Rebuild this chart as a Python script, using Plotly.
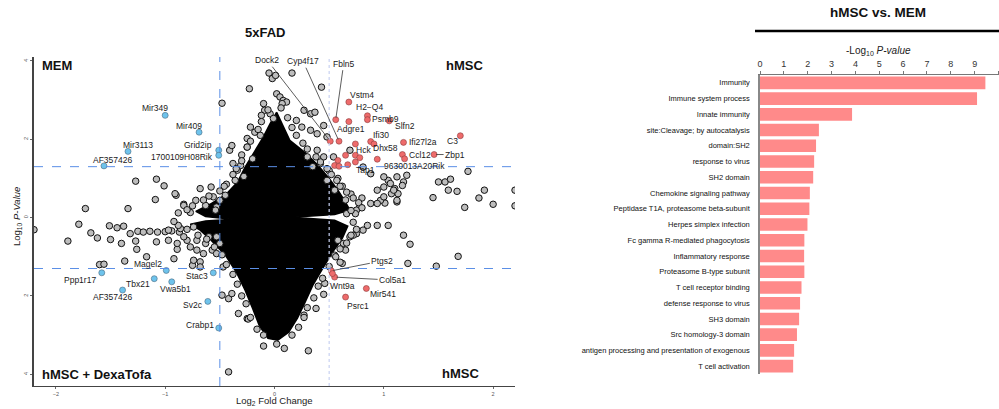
import plotly.graph_objects as go

# ---------------- DATA ----------------
# Volcano plot: grey (non-significant) genes
grey_x = [-0.48,-0.23,-1.27,-1.08,-1.01,-0.90,-1.09,-0.68,-0.58,-0.83,-1.73,-1.34,-0.38,-0.25,-0.56,-0.50,-0.53,-0.91,-0.83,
          -0.41,-0.39,-0.31,-0.34,-0.72,-0.63,-0.54,-0.45,-0.77,
          -2.20,-1.79,-1.89,-1.68,-1.62,-1.50,-1.51,-1.44,-1.32,-1.40,-1.27,-1.25,-1.20,-1.14,-1.07,-1.26,-1.17,-1.37,-1.60,-1.56,
          -1.00,-0.94,-0.87,-0.97,-0.89,-0.80,-0.92,-0.75,-1.08,-0.89,-0.83,-0.68,-0.42,-0.48,-0.42,-0.33,-0.25,-1.38,
          -0.97,-0.86,-0.74,-0.71,-0.63,-0.60,-0.53,-0.50,-0.57,-0.65,-0.71,-0.77,-0.74,-0.68,-0.53,-0.47,-0.39,
          -0.10,0.02,0.09,-0.24,0.27,0.38,0.45,0.46,0.62,0.31,
          0.78,0.88,1.01,0.75,0.81,0.94,1.04,0.63,0.69,0.75,1.18,1.24,1.68,1.22,1.48,1.74,2.00,2.20,1.77,1.50,1.56,1.61,1.59,1.67,
          1.45,1.87,1.92,2.20,1.18,1.17,1.21,1.12,1.04,1.00,1.10,1.07,1.13,1.12,0.97,0.94,0.74,0.66,0.85,0.72,0.58,0.65,0.55,0.60,
          0.16,-0.05,-0.02,0.01,-0.10,-0.09,-0.12,-0.04,-0.01,0.02,0.05,0.08,0.11,0.07,0.27,0.33,0.37,0.43,0.20,0.25,0.33,0.39,
          0.45,0.48,-0.22,-0.18,-0.13,-0.25,0.54,0.69,0.81,0.88,1.00,1.06,1.09,1.12,1.00,0.94,0.39,0.45,0.42,
          -0.30,-0.20,-0.28,-0.36,-0.44,0.30,0.35,0.50,0.58,0.62,0.70,0.55,0.48,0.65,0.80,
          0.06,0.12,0.16,0.20,0.26,0.30,0.38,0.42,0.48,0.52,0.57,0.60,0.66,0.72,0.77,0.80,0.70,
          -0.06,-0.12,-0.15,-0.22,-0.25,-0.30,-0.35,-0.38,-0.46,-0.50,-0.60,-0.65,-0.75,-0.80,-0.88,
          0.72,0.75,0.70,0.66,0.60,0.56,0.50,0.44,0.40,0.36,0.30,0.27,0.22,0.16,
          -0.10,-0.16,-0.22,-0.26,-0.30,-0.34,-0.38,-0.44,-0.48,-0.55,-0.62,-0.70,-0.80,-0.88,-0.92]
grey_y = [2.92,3.29,0.93,0.98,0.81,0.57,0.46,0.74,0.78,0.34,0.23,0.23,1.38,1.80,0.53,0.44,0.27,0.61,0.31,
          1.72,1.84,1.33,1.21,0.44,0.31,0.19,0.57,0.13,
          -0.31,-0.17,-0.60,-0.39,-0.52,-0.56,-0.21,-0.26,-0.41,-0.66,-0.60,-0.35,-0.37,-0.35,-0.37,-0.81,-1.00,-1.11,-1.20,-1.19,
          -0.36,-0.34,-0.37,-0.58,-0.81,-0.58,-1.05,-1.22,-0.62,-0.66,-0.49,-1.13,-3.94,-1.98,-2.07,-2.45,-2.58,-0.22,
          -0.32,-0.28,-0.24,-0.58,-0.66,-0.49,-0.49,-0.66,-0.83,-0.92,-0.83,-0.75,-1.09,-1.26,-0.92,-1.26,-1.94,
          -3.28,-3.23,-3.34,-2.59,-2.49,-2.32,-1.96,-1.68,-1.17,-3.40,
          0.27,0.36,0.37,-0.41,-0.32,-0.20,-0.20,-0.66,-0.49,0.19,-0.45,-0.68,-0.99,-1.17,-1.24,0.26,0.34,0.30,1.18,0.91,0.91,0.98,0.70,0.67,
          0.51,0.50,0.70,0.70,0.91,0.82,1.08,1.04,0.95,0.78,0.74,0.61,0.61,0.40,0.44,0.70,0.10,0.10,-0.20,-0.45,-0.58,-0.83,-0.96,-1.14,
          3.69,3.69,3.55,3.63,2.91,2.74,2.61,2.65,2.53,3.16,3.08,2.99,2.95,2.91,2.74,2.65,2.69,3.33,2.48,2.31,2.23,2.14,
          2.35,2.06,2.31,2.18,2.10,2.02,1.55,1.72,1.29,1.12,1.04,0.87,0.70,0.44,0.53,0.36,1.72,1.55,1.38,
          1.60,1.50,1.05,0.95,0.85,1.55,1.30,1.20,1.00,0.80,0.60,0.70,0.95,0.45,0.50,
          2.80,2.55,2.30,2.10,1.90,1.75,1.55,1.42,1.25,1.10,0.95,0.80,0.65,0.50,0.38,0.25,0.18,
          2.75,2.45,2.25,1.95,1.80,1.45,1.25,1.10,0.80,0.68,0.55,0.45,0.30,0.20,0.12,
          -0.12,-0.30,-0.45,-0.65,-0.80,-1.00,-1.25,-1.55,-1.75,-2.05,-2.30,-2.55,-2.80,-3.00,
          -3.00,-2.85,-2.55,-2.20,-2.00,-1.70,-1.45,-1.20,-0.95,-0.75,-0.55,-0.45,-0.30,-0.20,-0.10]

# Outline of the saturated (fully black) cloud of thousands of overlapping genes
dense_region_x = [0.02,0.08,0.14,0.28,0.40,0.50,0.58,0.64,0.69,0.55,0.16,0.55,0.67,0.62,0.53,0.44,0.35,0.28,0.21,0.13,
                  0.03,-0.06,-0.14,-0.20,-0.27,-0.35,-0.45,-0.58,-0.68,-0.77,-0.63,-0.39,-0.63,-0.72,-0.59,-0.44,
                  -0.34,-0.27,-0.19,-0.11,-0.04,0.02]
dense_region_y = [2.69,2.35,1.97,1.66,1.33,1.00,0.70,0.44,0.19,0.08,0.01,-0.07,-0.22,-0.53,-0.89,-1.30,-1.73,-2.16,-2.57,-2.93,
                  -3.13,-3.08,-2.75,-2.32,-1.85,-1.39,-0.96,-0.58,-0.32,-0.17,-0.09,-0.04,0.03,0.16,0.34,0.60,
                  0.90,1.28,1.66,2.02,2.40,2.69]

# Significant genes (down = blue, up = red)
blue_genes = ["Mir349","Mir409","Mir3113","AF357426","Grid2ip","1700109H08Rik",
              "Magel2","Ppp1r17","Tbx21","Vwa5b1","AF357426 ","Stac3","Sv2c","Crabp1"]
blue_x = [-1.00,-0.69,-1.34,-1.56,-0.51,-0.51,-0.99,-1.58,-1.10,-0.94,-1.39,-0.56,-0.61,-0.51]
blue_y = [2.61,2.18,1.69,1.32,1.72,1.59,-1.35,-1.41,-1.56,-1.64,-1.85,-1.41,-2.14,-2.82]

red_genes = ["Fbln5","Vstm4","H2\u2212Q4","Psmb9","Adgre1","Slfn2","Dock2","Cyp4f17","Ifi30","Dhx58","Ifi27l2a","C3",
             "Hck","Ccl12","Zbp1","9630013A20Rik","Tap1","Ptgs2","Col5a1","Wnt9a","Mir541","Psrc1",
             "","","","","","","",""]
red_x = [0.56,0.68,0.85,0.85,0.68,1.05,0.51,0.59,0.88,0.91,1.18,1.70,0.74,1.17,1.46,0.94,0.74,0.52,0.55,0.53,0.84,0.65,
         1.19,0.78,0.65,0.58,0.55,0.59,0.67,0.74]
red_y = [2.50,2.95,2.60,2.50,2.45,2.47,1.95,1.95,1.94,1.88,1.92,2.09,1.59,1.61,1.61,1.49,1.42,-1.36,-1.52,-1.43,-1.81,-2.03,
         1.50,1.53,1.59,1.46,1.33,1.31,1.35,1.88]

x_ticks = [-2, -1, 0, 1, 2]
y_tickvals = [-4, -2, 0, 2, 4]
y_ticktext = ["4", "2", "0", "2", "4"]
p_cut = 1.3
fc_cut = 0.5

# Enrichment bar chart
terms = ["Immunity","Immune system process","Innate immunity","site:Cleavage; by autocatalysis","domain:SH2",
         "response to virus","SH2 domain","Chemokine signaling pathway","Peptidase T1A, proteasome beta-subunit",
         "Herpes simplex infection","Fc gamma R-mediated phagocytosis","Inflammatory response",
         "Proteasome B-type subunit","T cell receptor binding","defense response to virus","SH3 domain",
         "Src homology-3 domain","antigen processing and presentation of exogenous","T cell activation"]
neglog_p = [9.45,9.1,3.86,2.47,2.35,2.27,2.23,2.09,2.07,1.99,1.86,1.85,1.86,1.74,1.68,1.64,1.55,1.43,1.39]
bar_ticks = list(range(0, 11))

# ---------------- STYLE ----------------
FONT = "Liberation Sans, Arial, Helvetica, sans-serif"
W, H = 999, 409

# label offsets in pixels (text centre relative to the point)
label_shift = {
    "Mir349": (-10, 7), "Mir409": (-10, 6), "Mir3113": (10, 6), "AF357426": (9, 6),
    "Magel2": (-18, 6), "Ppp1r17": (-22, -7), "Tbx21": (-16, -5), "Vwa5b1": (4, -7),
    "AF357426 ": (-10, -7), "Stac3": (-16, -3), "Sv2c": (-15, -4), "Crabp1": (-19, 3),
    "Vstm4": (13, 7), "H2\u2212Q4": (2, 9), "Psmb9": (18, 1), "Adgre1": (2, -7), "Slfn2": (16, -5),
    "Ifi30": (10, 7), "Dhx58": (12, -4), "Ifi27l2a": (19, 0), "C3": (-8, -5), "Hck": (8, 5),
    "Ccl12": (18, 0), "9630013A20Rik": (37, -7), "Tap1": (10, -8),
    "Wnt9a": (10, -12), "Mir541": (17, -6), "Psrc1": (12, -9),
}
right_anchor = {"Grid2ip": (-5, 5), "1700109H08Rik": (-4, -2)}
arrow_labels = {"Dock2": (-63, -81), "Cyp4f17": (-36, -80), "Fbln5": (8, -56), "Zbp1": (21, 0),
                "Ptgs2": (51, -10), "Col5a1": (58, 3)}

fig = go.Figure()

# dense cloud
fig.add_trace(go.Scatter(x=dense_region_x, y=dense_region_y, mode="lines", fill="toself",
                         fillcolor="black", line=dict(color="black", width=1.5),
                         hoverinfo="skip", showlegend=False, xaxis="x", yaxis="y"))
fig.add_trace(go.Scatter(x=grey_x, y=grey_y, mode="markers",
                         marker=dict(size=6.5, color="#BDBDBD", line=dict(color="#111111", width=1)),
                         showlegend=False, xaxis="x", yaxis="y"))
fig.add_trace(go.Scatter(x=blue_x, y=blue_y, mode="markers",
                         marker=dict(size=6, color="#6EC3EC", line=dict(color="#4a6a80", width=0.6)),
                         showlegend=False, xaxis="x", yaxis="y"))
fig.add_trace(go.Scatter(x=red_x, y=red_y, mode="markers",
                         marker=dict(size=6, color="#EE6B6B", line=dict(color="#8a3a3a", width=0.6)),
                         showlegend=False, xaxis="x", yaxis="y"))

# bars
fig.add_trace(go.Bar(x=neglog_p, y=terms, orientation="h", marker=dict(color="#FF8A8A", line=dict(width=0)),
                     width=0.8, showlegend=False, xaxis="x2", yaxis="y2"))

ann = []
lab_font = dict(family=FONT, size=8.5, color="#1a1a1a")
for names, xs, ys in ((blue_genes, blue_x, blue_y), (red_genes, red_x, red_y)):
    for n, x, y in zip(names, xs, ys):
        if not n:
            continue
        if n in arrow_labels:
            ax, ay = arrow_labels[n]
            ann.append(dict(x=x, y=y, xref="x", yref="y", text=n, showarrow=True, ax=ax, ay=ay,
                            arrowhead=0, arrowwidth=0.8, arrowcolor="#333", standoff=2, font=lab_font))
        elif n in right_anchor:
            dx, dy = right_anchor[n]
            ann.append(dict(x=x, y=y, xref="x", yref="y", text=n, showarrow=False, xanchor="right",
                            xshift=dx, yshift=dy, font=lab_font))
        else:
            dx, dy = label_shift[n]
            ann.append(dict(x=x, y=y, xref="x", yref="y", text=n.strip(), showarrow=False, xanchor="center",
                            xshift=dx, yshift=dy, font=lab_font))

def px(xp):
    return xp / W
def py(yp):
    return 1 - yp / H

bold = dict(family=FONT, size=13, color="#111")
ann += [
    dict(x=px(265), y=py(33), xref="paper", yref="paper", text="<b>5xFAD</b>", showarrow=False,
         xanchor="center", yanchor="middle", font=bold),
    dict(x=px(40), y=py(66), xref="paper", yref="paper", text="<b>MEM</b>", showarrow=False,
         xanchor="left", yanchor="middle", font=bold),
    dict(x=px(464), y=py(66), xref="paper", yref="paper", text="<b>hMSC</b>", showarrow=False,
         xanchor="center", yanchor="middle", font=bold),
    dict(x=px(40), y=py(374), xref="paper", yref="paper", text="<b>hMSC + DexaTofa</b>", showarrow=False,
         xanchor="left", yanchor="middle", font=bold),
    dict(x=px(460), y=py(373), xref="paper", yref="paper", text="<b>hMSC</b>", showarrow=False,
         xanchor="center", yanchor="middle", font=bold),
    dict(x=px(274.5), y=py(401), xref="paper", yref="paper", text="Log<sub>2</sub> Fold Change",
         showarrow=False, xanchor="center", yanchor="middle", font=dict(family=FONT, size=9.5, color="#222")),
    dict(x=px(17), y=py(217), xref="paper", yref="paper", text="Log<sub>10</sub> <i>P-Value</i>",
         showarrow=False, textangle=-90, xanchor="center", yanchor="middle",
         font=dict(family=FONT, size=9.5, color="#222")),
    dict(x=px(878), y=py(13), xref="paper", yref="paper", text="<b>hMSC vs. MEM</b>", showarrow=False,
         xanchor="center", yanchor="middle", font=dict(family=FONT, size=13.5, color="#111")),
    dict(x=px(878), y=py(51), xref="paper", yref="paper", text="-Log<sub>10</sub> <i>P-value</i>",
         showarrow=False, xanchor="center", yanchor="middle", font=dict(family=FONT, size=10, color="#222")),
]

blue_line = "#5B8FE6"
shapes = [
    dict(type="line", xref="x", yref="y", x0=-2.2, x1=2.2, y0=p_cut, y1=p_cut,
         line=dict(color=blue_line, width=1, dash="dash")),
    dict(type="line", xref="x", yref="y", x0=-2.2, x1=2.2, y0=-p_cut, y1=-p_cut,
         line=dict(color=blue_line, width=1, dash="dash")),
    dict(type="line", xref="x", yref="y", x0=-fc_cut, x1=-fc_cut, y0=-4.3, y1=4.1,
         line=dict(color=blue_line, width=1, dash="dash")),
    dict(type="line", xref="x", yref="y", x0=fc_cut, x1=fc_cut, y0=-4.3, y1=4.1,
         line=dict(color="#C8D2F2", width=1.2, dash="dot")),
    dict(type="line", xref="paper", yref="paper", x0=px(755), x1=1.0, y0=py(31), y1=py(31),
         line=dict(color="black", width=2.5)),
]

fig.update_layout(
    width=W, height=H, margin=dict(l=0, r=0, t=0, b=0, autoexpand=False),
    paper_bgcolor="white", plot_bgcolor="white",
    font=dict(family=FONT, color="#222"),
    annotations=ann, shapes=shapes, bargap=0.2,
    xaxis=dict(domain=[px(34), px(515)], range=[-2.2, 2.2], tickvals=x_ticks,
               showgrid=False, zeroline=False, showline=True, linecolor="#444", linewidth=1.2,
               ticks="outside", ticklen=2, tickcolor="#666", tickfont=dict(size=5.5, color="#555")),
    yaxis=dict(domain=[py(386), py(57)], range=[-4.3, 4.1], tickvals=y_tickvals, ticktext=y_ticktext,
               tickangle=-90, showgrid=False, zeroline=False, showline=True, linecolor="#444", linewidth=1.5,
               ticks="outside", ticklen=2, tickcolor="#666", tickfont=dict(size=5.5, color="#555")),
    xaxis2=dict(domain=[px(760), px(998.5)], range=[0, 10], tickvals=bar_ticks, side="top", anchor="y2",
                showgrid=False, zeroline=False, showline=True, linecolor="#777", linewidth=1,
                ticks="outside", ticklen=3, tickcolor="#777", tickfont=dict(size=9, color="#333")),
    yaxis2=dict(domain=[py(374), py(75)], range=[18.5, -0.5], anchor="x2", type="category",
                categoryorder="array", categoryarray=terms,
                showgrid=False, zeroline=False, showline=True, linecolor="#888", linewidth=1.5,
                ticks="outside", ticklen=7, tickcolor="rgba(0,0,0,0)", tickfont=dict(size=7.5, color="#111")),
)

fig.write_html("out.html", config={"displayModeBar": False},
               post_script="document.body.style.margin='0px';")
